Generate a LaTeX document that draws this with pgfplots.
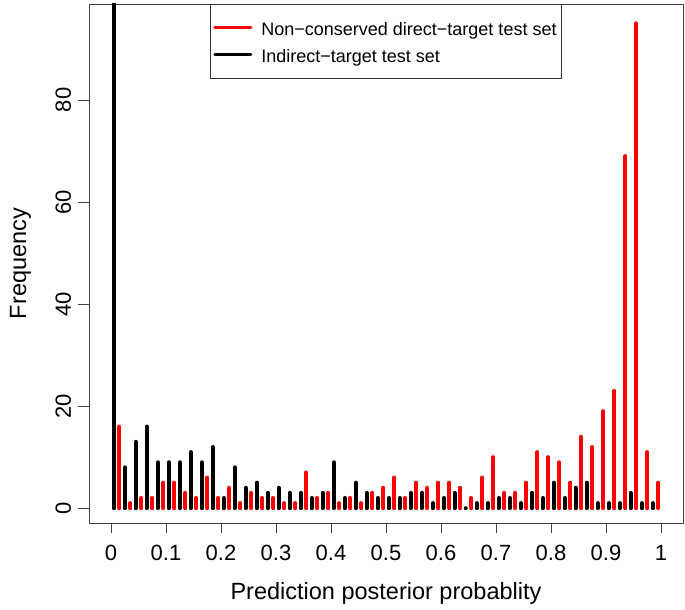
\documentclass[border=0pt]{standalone}
\usepackage{fontspec}
\setmainfont{Liberation Sans}
\usepackage{pgfplots}
\usepackage{pgfplotstable}
\pgfplotsset{compat=1.18}
\pgfplotstableread{
x y
0.015 16
0.035 1
0.055 2
0.075 2
0.095 5
0.115 5
0.135 3
0.155 2
0.175 6
0.195 2
0.215 4
0.235 1
0.255 3
0.275 2
0.295 2
0.315 1
0.335 1
0.355 7
0.375 2
0.395 3
0.415 1
0.435 2
0.455 1
0.475 3
0.495 4
0.515 6
0.535 2
0.555 5
0.575 4
0.595 5
0.615 5
0.635 4
0.655 2
0.675 6
0.695 10
0.715 3
0.735 3
0.755 5
0.775 11
0.795 10
0.815 9
0.835 5
0.855 14
0.875 12
0.895 19
0.915 23
0.935 69
0.955 95
0.975 11
0.995 5
}\reddata
\pgfplotstableread{
x y
0.005 120
0.025 8
0.045 13
0.065 16
0.085 9
0.105 9
0.125 9
0.145 11
0.165 9
0.185 12
0.205 2
0.225 8
0.245 4
0.265 5
0.285 3
0.305 4
0.325 3
0.345 3
0.365 2
0.385 3
0.405 9
0.425 2
0.445 5
0.465 3
0.485 2
0.505 2
0.525 2
0.545 3
0.565 3
0.585 1
0.605 2
0.625 3
0.645 0
0.665 1
0.685 1
0.705 2
0.725 2
0.745 1
0.765 3
0.785 2
0.805 5
0.825 2
0.845 4
0.865 5
0.885 1
0.905 1
0.925 1
0.945 3
0.965 1
0.985 1
}\blackdata
\begin{document}
\begin{tikzpicture}
\path (0pt,0pt) rectangle (685pt,610pt);
\begin{axis}[
  at={(89pt,87pt)}, anchor=south west,
  width=594pt, height=519pt, scale only axis,
  xmin=-0.04, xmax=1.04, ymin=-2.9, ymax=98.8,
  axis line style={black!75, line width=0.8pt},
  xtick={0,0.1,0.2,0.3,0.4,0.5,0.6,0.7,0.8,0.9,1},
  xticklabels={0,0.1,0.2,0.3,0.4,0.5,0.6,0.7,0.8,0.9,1},
  ytick={0,20,40,60,80},
  yticklabels={0,20,40,60,80},
  xtick pos=bottom, ytick pos=left,
  tick align=outside, major tick length=10.5pt,
  tick style={black!75, line width=0.8pt},
  ticklabel style={font=\fontsize{22}{26}\selectfont},
  /pgf/number format/assume math mode=true,
  yticklabel style={rotate=90, anchor=south},
  xticklabel shift=8pt,
  yticklabel shift=4pt,
  xlabel={Prediction posterior probablity},
  ylabel={Frequency},
  every axis x label/.style={at={(axis description cs:0.5,-0.148)}, anchor=base, font=\fontsize{23.5}{27}\selectfont},
  every axis y label/.style={at={(axis description cs:-0.106,0.5)}, rotate=90, anchor=base, font=\fontsize{23.5}{27}\selectfont},
  legend style={at={(axis description cs:0.2037,1)}, anchor=north west,
    draw=black!80, line width=0.8pt, font=\fontsize{18}{20}\selectfont,
    inner xsep=3pt, inner ysep=10pt, row sep=0pt,
    nodes={text height=18pt, text depth=2pt, inner ysep=3.5pt},
    /tikz/every odd column/.append style={column sep=7pt}},
  legend cell align=left,
]
\addplot[ycomb, red, line width=4pt, line cap=round,
  legend image code/.code={\draw[red, line width=3pt] (0pt,0pt) -- (36pt,0pt);}]
  table[x=x, y=y] {\reddata};
\addlegendentry{Non−conserved direct−target test set}
\addplot[ycomb, black, line width=4pt, line cap=round,
  legend image code/.code={\draw[black, line width=3pt] (0pt,0pt) -- (36pt,0pt);}]
  table[x=x, y=y] {\blackdata};
\addlegendentry{Indirect−target test set}
\end{axis}
\end{tikzpicture}
\end{document}
